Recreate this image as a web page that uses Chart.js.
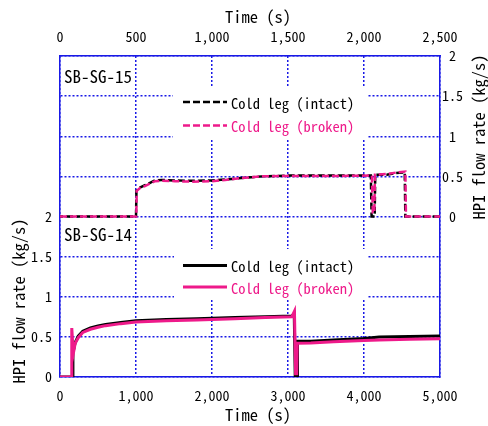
<!DOCTYPE html>
<html>
<head>
<meta charset="utf-8">
<script src="https://cdn.jsdelivr.net/npm/chart.js@4.4.1/dist/chart.umd.min.js"></script>
<style>
  html, body { margin: 0; padding: 0; background: #fff; }
  #wrap { width: 488px; height: 426px; }
</style>
</head>
<body>
<div id="wrap"><canvas id="hpiChart" width="488" height="426"></canvas></div>
<script>
// SB-SG-15 (upper panel, top time axis 0-2500 s)
const sg15IntactTime = [0, 500, 503, 526, 559, 592, 625, 669, 757, 866, 998, 1086, 1195, 1327, 1500, 1800, 2045, 2050, 2070, 2074, 2150, 2200, 2268, 2272, 2500];
const sg15IntactFlow = [0, 0, 0.32, 0.36, 0.39, 0.42, 0.45, 0.455, 0.45, 0.445, 0.45, 0.46, 0.48, 0.50, 0.51, 0.51, 0.51, 0, 0, 0.52, 0.52, 0.54, 0.55, 0, 0];
const sg15BrokenTime = [0, 502, 505, 526, 559, 592, 625, 669, 757, 866, 998, 1086, 1195, 1327, 1500, 1800, 2052, 2058, 2068, 2072, 2150, 2220, 2272, 2276, 2500];
const sg15BrokenFlow = [0, 0, 0.32, 0.355, 0.38, 0.41, 0.44, 0.446, 0.44, 0.434, 0.44, 0.455, 0.48, 0.50, 0.505, 0.505, 0.51, 0.05, 0.05, 0.52, 0.53, 0.55, 0.56, 0, 0];

// SB-SG-14 (lower panel, bottom time axis 0-5000 s)
const sg14IntactTime = [0, 165, 170, 200, 240, 300, 400, 500, 600, 800, 1000, 1400, 1800, 2300, 2700, 3050, 3082, 3095, 3120, 3125, 3300, 3600, 4000, 4200, 4600, 5000];
const sg14IntactFlow = [0, 0, 0.30, 0.43, 0.51, 0.57, 0.61, 0.635, 0.655, 0.68, 0.70, 0.715, 0.725, 0.74, 0.75, 0.76, 0.79, 0.02, 0.02, 0.445, 0.445, 0.46, 0.48, 0.497, 0.505, 0.51];
const sg14BrokenTime = [0, 150, 155, 175, 200, 240, 300, 400, 500, 600, 800, 1000, 1400, 1800, 2300, 2700, 3050, 3085, 3100, 3115, 3122, 3300, 3600, 4000, 4200, 4600, 5000];
const sg14BrokenFlow = [0, 0, 0.61, 0.29, 0.42, 0.49, 0.555, 0.595, 0.62, 0.64, 0.665, 0.685, 0.70, 0.71, 0.725, 0.74, 0.75, 0.82, 0.04, 0.04, 0.42, 0.425, 0.44, 0.455, 0.46, 0.47, 0.477];

const seriesLabels = ['Cold leg (intact)', 'Cold leg (broken)'];
const panelLabels = ['SB-SG-15', 'SB-SG-14'];
const timeTitle = 'Time (s)';
const flowTitle = 'HPI flow rate (kg/s)';

const BLUE = 'rgb(25,25,230)';
const PINK = '#ee1a8a';
const FONT = "'Noto Sans Mono CJK JP', 'Noto Sans CJK JP', 'Liberation Mono', monospace";

const toPoints = (ts, vs) => ts.map((t, i) => ({ x: t, y: vs[i] }));
const fmt = v => Number(v).toLocaleString('en-US');

const datasets = [
    { label: seriesLabels[1], data: toPoints(sg15BrokenTime, sg15BrokenFlow), xAxisID: 'xTop', yAxisID: 'yTop',
      borderColor: PINK, borderWidth: 2.5, borderDash: [7, 3], order: 0, panel: 0 },
    { label: seriesLabels[0], data: toPoints(sg15IntactTime, sg15IntactFlow), xAxisID: 'xTop', yAxisID: 'yTop',
      borderColor: '#000', borderWidth: 2.5, borderDash: [7, 3], borderDashOffset: 4, order: 1, panel: 0 },
    { label: seriesLabels[1], data: toPoints(sg14BrokenTime, sg14BrokenFlow), xAxisID: 'x', yAxisID: 'y',
      borderColor: PINK, borderWidth: 3, order: 2, panel: 1 },
    { label: seriesLabels[0], data: toPoints(sg14IntactTime, sg14IntactFlow), xAxisID: 'x', yAxisID: 'y',
      borderColor: '#000', borderWidth: 3, order: 3, panel: 1 }
];
datasets.forEach(d => { d.pointRadius = 0; d.tension = 0; d.fill = false; });

// legends, panel names and axis titles drawn on top
const overlay = {
    id: 'overlay',
    afterDraw(chart) {
        const ctx = chart.ctx;
        ctx.save();
        ctx.fillStyle = '#000';
        ctx.textBaseline = 'middle';

        // panel names
        ctx.font = '17px ' + FONT;
        ctx.textAlign = 'left';
        ctx.fillText(panelLabels[0], 64, 77);
        ctx.fillText(panelLabels[1], 64, 235);

        // legend boxes
        const boxes = [
            { panel: 0, x: 173, y: 88, w: 195, h: 52, rows: [102, 125.5] },
            { panel: 1, x: 174, y: 249, w: 193, h: 51, rows: [265.5, 287] }
        ];
        boxes.forEach(b => {
            ctx.fillStyle = '#fff';
            ctx.fillRect(b.x, b.y, b.w, b.h);
            const ds = chart.data.datasets.filter(d => d.panel === b.panel);
            const intact = ds.find(d => d.label === seriesLabels[0]);
            const broken = ds.find(d => d.label === seriesLabels[1]);
            [intact, broken].forEach((d, i) => {
                ctx.strokeStyle = d.borderColor;
                ctx.lineWidth = d.borderWidth;
                ctx.setLineDash(d.borderDash || []);
                ctx.beginPath();
                ctx.moveTo(183, b.rows[i]);
                ctx.lineTo(227, b.rows[i]);
                ctx.stroke();
                ctx.setLineDash([]);
                ctx.fillStyle = d.borderColor;
                ctx.font = '14.5px ' + FONT;
                ctx.textAlign = 'left';
                ctx.fillText(d.label, 231, b.rows[i] + 1);
            });
        });

        // axis titles
        ctx.fillStyle = '#000';
        ctx.font = '16.5px ' + FONT;
        ctx.textAlign = 'center';
        ctx.fillText(timeTitle, 258, 17);
        ctx.fillText(timeTitle, 258, 415);
        ctx.translate(19, 301);
        ctx.rotate(-Math.PI / 2);
        ctx.fillText(flowTitle, 0, 0);
        ctx.rotate(Math.PI / 2);
        ctx.translate(-19, -301);
        ctx.translate(479, 137);
        ctx.rotate(-Math.PI / 2);
        ctx.fillText(flowTitle, 0, 0);
        ctx.restore();
    }
};

const tickFont = { family: FONT, size: 14 };

new Chart(document.getElementById('hpiChart'), {
    type: 'line',
    data: { datasets },
    options: {
        responsive: false,
        animation: false,
        devicePixelRatio: 1,
        layout: { padding: 0 },
        plugins: { legend: { display: false }, tooltip: { enabled: false } },
        scales: {
            x: {
                type: 'linear', position: 'bottom', min: 0, max: 5000,
                ticks: { stepSize: 1000, autoSkip: false, maxRotation: 0, padding: 10, color: '#000', font: tickFont, callback: fmt },
                grid: { color: BLUE, lineWidth: 1.5, drawTicks: false },
                border: { color: BLUE, width: 1.5, dash: [2, 2] },
                afterFit: s => { s.height = 49; }
            },
            xTop: {
                type: 'linear', position: 'top', min: 0, max: 2500,
                ticks: { stepSize: 500, autoSkip: false, maxRotation: 0, padding: 11, color: '#000', font: tickFont, callback: fmt },
                grid: { drawOnChartArea: false, drawTicks: false },
                border: { color: BLUE, width: 1.5 },
                afterFit: s => { s.height = 56; }
            },
            y: {
                type: 'linear', position: 'left', min: 0, max: 4,
                ticks: { stepSize: 0.5, autoSkip: false, padding: 8, color: '#000', font: tickFont,
                         callback: v => (v <= 2 ? String(v) : '') },
                grid: { color: BLUE, lineWidth: 1.5, drawTicks: false },
                border: { color: BLUE, width: 1.5, dash: [2, 2] },
                afterFit: s => { s.width = 60; }
            },
            yTop: {
                type: 'linear', position: 'right', min: -2, max: 2,
                ticks: { stepSize: 0.5, autoSkip: false, padding: 2, crossAlign: 'center', color: '#000', font: tickFont,
                         callback: v => (v >= 0 ? String(v) : '') },
                grid: { drawOnChartArea: false, drawTicks: false },
                border: { color: BLUE, width: 1.5 },
                afterFit: s => { s.width = 48; }
            }
        }
    },
    plugins: [overlay]
});
</script>
</body>
</html>
